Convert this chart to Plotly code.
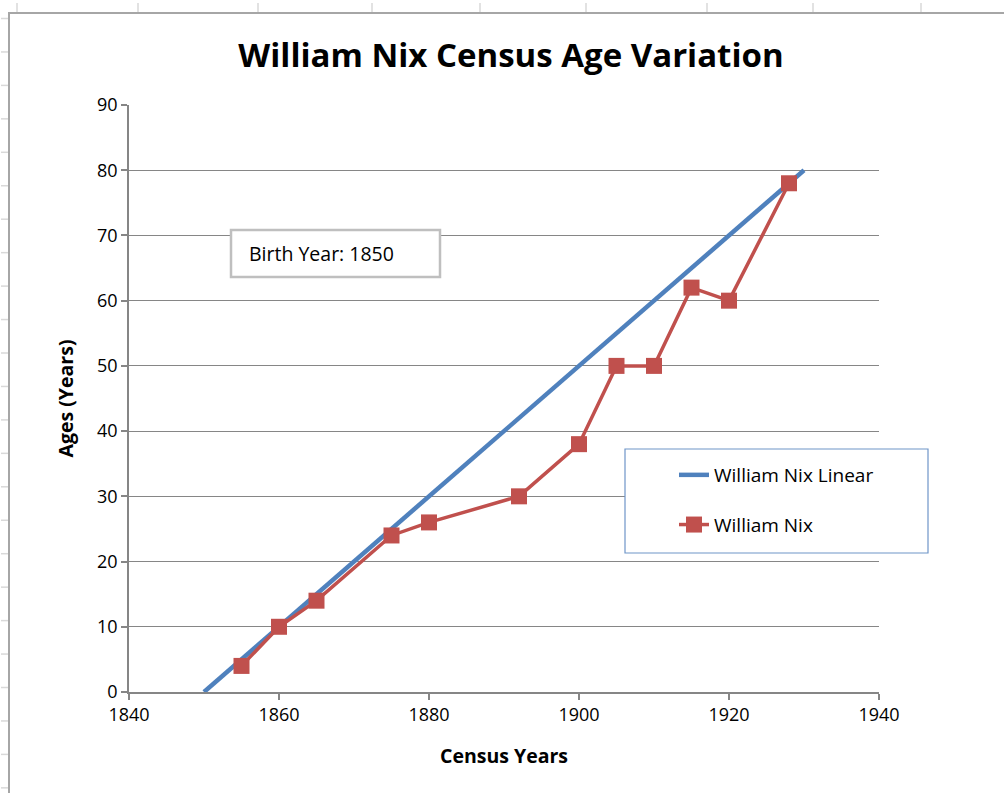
import plotly.graph_objects as go

# Data
census_years = [1855, 1860, 1865, 1875, 1880, 1892, 1900, 1905, 1910, 1915, 1920, 1928]
ages = [4, 10, 14, 24, 26, 30, 38, 50, 50, 62, 60, 78]
linear_years = [1850, 1930]
linear_ages = [0, 80]
x_ticks = [1840, 1860, 1880, 1900, 1920, 1940]
y_ticks = [0, 10, 20, 30, 40, 50, 60, 70, 80, 90]

title_text = "William Nix Census Age Variation"
x_title = "Census Years"
y_title = "Ages (Years)"
note_text = "Birth Year: 1850"

FONT = "Open Sans"
BLUE = "#4f81bd"
RED = "#c0504d"
GRID = "#868686"

W, H = 1004, 793
L, R, T, B = 129, 879, 105, 692  # plot area in pixels


def px(x):
    return (x - L) / (R - L)


def py(y):
    return (B - y) / (B - T)


fig = go.Figure()
fig.add_trace(go.Scatter(
    x=linear_years, y=linear_ages, mode="lines", name="William Nix Linear",
    line=dict(color=BLUE, width=4.5), legendgroup="a"))
fig.add_trace(go.Scatter(
    x=census_years, y=ages, mode="lines+markers", name="William Nix",
    line=dict(color=RED, width=3.5),
    marker=dict(symbol="square", size=16, color=RED), legendgroup="b"))

shapes = []
# spreadsheet cell grid marks
for xx in [17, 138, 258, 372, 480, 586, 707, 813, 921]:
    shapes.append(dict(type="line", xref="paper", yref="paper",
                       x0=px(xx), x1=px(xx), y0=py(3), y1=py(13),
                       line=dict(color="#d9d9d9", width=1.5), layer="below"))
yy = 18.5
while yy < 800:
    shapes.append(dict(type="line", xref="paper", yref="paper",
                       x0=px(1), x1=px(9), y0=py(yy), y1=py(yy),
                       line=dict(color="#d9d9d9", width=1.5), layer="below"))
    yy += 33.45
# chart area border
shapes.append(dict(type="rect", xref="paper", yref="paper",
                   x0=px(9), x1=px(1010), y0=py(13), y1=py(800),
                   line=dict(color="#a6a6a6", width=2), fillcolor="white", layer="below"))
# legend box
shapes.append(dict(type="rect", xref="paper", yref="paper",
                   x0=px(625), x1=px(928), y0=py(449), y1=py(553),
                   line=dict(color="#6f95c8", width=1.2), fillcolor="white", layer="above"))
# note box
shapes.append(dict(type="rect", xref="paper", yref="paper",
                   x0=px(231), x1=px(440), y0=py(230), y1=py(277),
                   line=dict(color="#bfbfbf", width=2.5), fillcolor="white", layer="above"))

fig.update_layout(
    width=W, height=H,
    margin=dict(l=L, r=W - R, t=T, b=H - B),
    paper_bgcolor="white", plot_bgcolor="white",
    font=dict(family=FONT, color="#000000", size=18),
    title=dict(text="<b>" + title_text + "</b>", x=px(511), xref="paper", xanchor="center",
               y=1 - 55 / H, yanchor="middle", font=dict(size=33, family=FONT, color="#000")),
    shapes=shapes,
    showlegend=True,
    legend=dict(x=px(674), y=py(456), xanchor="left", yanchor="top",
                bgcolor="rgba(0,0,0,0)", borderwidth=0, tracegroupgap=22,
                font=dict(size=19, family=FONT, color="#000")),
    annotations=[dict(text=note_text, xref="paper", yref="paper",
                      x=px(247), y=py(254), xanchor="left", yanchor="middle",
                      showarrow=False, font=dict(size=19.5, family=FONT, color="#000"))],
)
fig.update_xaxes(range=[1840, 1940], tickvals=x_ticks, showgrid=False,
                 showline=True, linecolor=GRID, linewidth=1.5,
                 ticks="outside", ticklen=6, tickcolor=GRID, tickwidth=1.5,
                 tickfont=dict(size=18), zeroline=False,
                 title=dict(text="<b>" + x_title + "</b>", font=dict(size=19.5), standoff=24))
fig.update_yaxes(range=[0, 90], tickvals=y_ticks, showgrid=True, gridcolor=GRID, gridwidth=1.2,
                 showline=True, linecolor=GRID, linewidth=1.5,
                 ticks="outside", ticklen=6, tickcolor=GRID, tickwidth=1.5,
                 tickfont=dict(size=18), zeroline=False,
                 title=dict(text="<b>" + y_title + "</b>", font=dict(size=19.5), standoff=18))

fig.write_html("out.html", config={"displayModeBar": False},
               post_script="document.body.style.margin='0';")
